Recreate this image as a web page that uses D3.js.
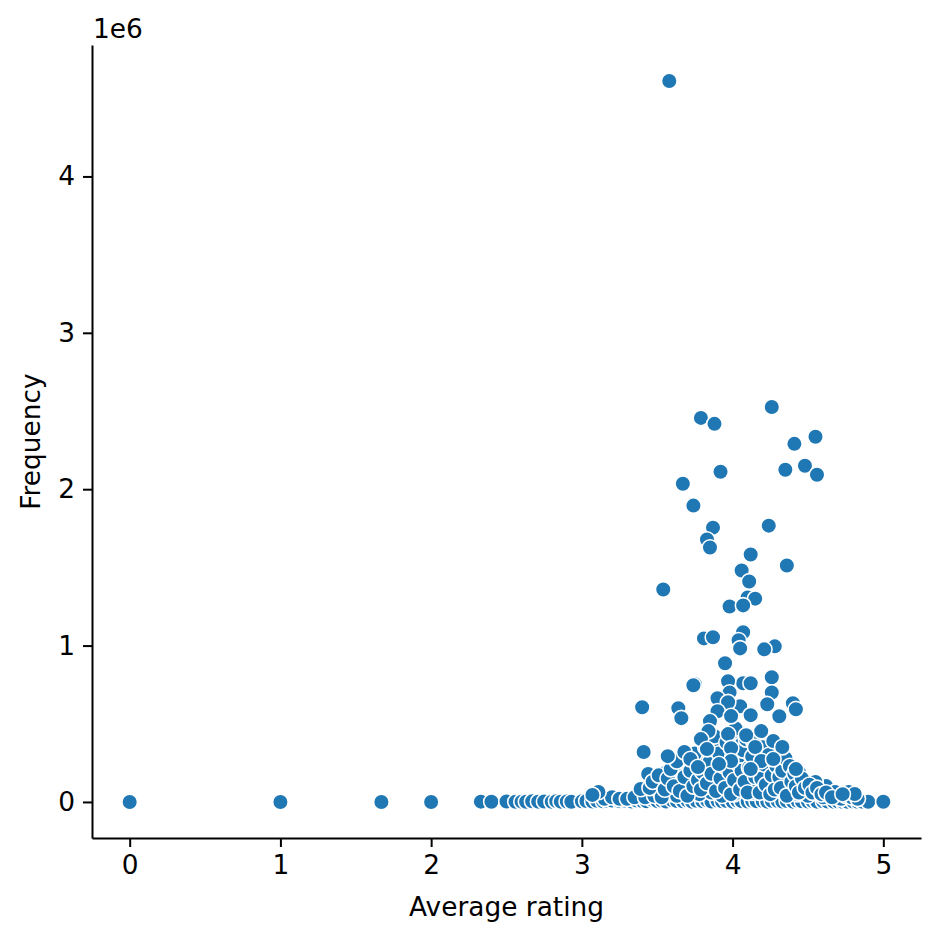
<!DOCTYPE html>
<html>
<head>
<meta charset="utf-8">
<script src="https://cdn.jsdelivr.net/npm/d3@7"></script>
<style>
  body { margin: 0; background: #fff; }
  text { font-family: "DejaVu Sans", sans-serif; }
</style>
</head>
<body>
<div id="chart-area"></div>
<script>
// Points as [average rating, frequency in millions]
// sparse low ratings
const lowRatings = [[0, 0], [1, 0], [1.67, 0], [2, 0]];

// everything sitting on the zero line
const baseline = [
  [2.33, 0.002], [2.40, 0.001], [2.50, 0.003], [2.56, 0.001], [2.60, 0.002], [2.63, 0.001],
  [2.67, 0.004], [2.71, 0.002], [2.75, 0.003], [2.80, 0.001], [2.83, 0.005], [2.86, 0.002],
  [2.90, 0.003], [2.93, 0.001], [3.00, 0.004], [3.03, 0.006], [3.07, 0.003], [3.10, 0.008],
  [3.14, 0.004], [3.17, 0.006], [3.20, 0.009], [3.25, 0.005], [3.29, 0.007], [3.33, 0.003],
  [3.36, 0.010], [3.40, 0.006], [3.43, 0.004], [3.47, 0.012], [3.50, 0.005], [3.53, 0.008],
  [3.56, 0.003], [3.60, 0.011], [3.63, 0.006], [3.67, 0.004], [3.70, 0.009], [3.73, 0.002],
  [3.76, 0.007], [3.80, 0.005], [3.83, 0.010], [3.86, 0.003], [3.90, 0.008], [3.93, 0.004],
  [3.96, 0.006], [4.00, 0.002], [4.03, 0.009], [4.06, 0.005], [4.10, 0.003], [4.13, 0.007],
  [4.16, 0.004], [4.20, 0.006], [4.23, 0.002], [4.26, 0.008], [4.30, 0.005], [4.33, 0.003],
  [4.36, 0.006], [4.40, 0.002], [4.43, 0.007], [4.46, 0.004], [4.50, 0.003], [4.53, 0.005],
  [4.56, 0.002], [4.60, 0.004], [4.63, 0.003], [4.67, 0.002], [4.70, 0.003], [4.73, 0.001],
  [4.76, 0.002], [4.80, 0.003], [4.83, 0.001], [4.86, 0.002], [4.90, 0.001], [5.00, 0.001]
];

// dense cluster just above zero
const cluster = [
  [3.15, 0.02], [3.20, 0.03], [3.25, 0.02], [3.30, 0.02], [3.35, 0.03], [3.42, 0.03],
  [3.48, 0.04], [3.52, 0.06], [3.54, 0.12], [3.58, 0.09], [3.60, 0.05], [3.63, 0.04],
  [3.67, 0.11], [3.62, 0.14], [3.66, 0.20], [3.69, 0.08], [3.70, 0.25], [3.73, 0.12],
  [3.76, 0.18], [3.78, 0.05], [3.80, 0.28], [3.81, 0.15], [3.84, 0.22], [3.86, 0.06],
  [3.87, 0.30], [3.88, 0.19], [3.90, 0.11], [3.92, 0.36], [3.93, 0.04], [3.94, 0.17],
  [3.95, 0.28], [3.96, 0.22], [3.98, 0.13], [4.00, 0.40], [4.01, 0.05], [4.02, 0.20],
  [4.03, 0.30], [4.05, 0.16], [4.06, 0.37], [4.08, 0.09], [4.09, 0.25], [4.10, 0.18],
  [4.11, 0.33], [4.13, 0.06], [4.14, 0.14], [4.16, 0.24], [4.17, 0.11], [4.18, 0.32],
  [4.20, 0.19], [4.21, 0.07], [4.22, 0.27], [4.23, 0.15], [4.25, 0.22], [4.27, 0.09],
  [4.28, 0.18], [4.30, 0.12], [4.32, 0.25], [4.34, 0.06], [4.36, 0.19], [4.37, 0.10],
  [4.38, 0.16], [4.40, 0.08], [4.41, 0.14], [4.43, 0.05], [4.44, 0.19], [4.45, 0.10],
  [4.47, 0.07], [4.49, 0.12], [4.50, 0.04], [4.52, 0.08], [4.58, 0.06], [4.60, 0.03],
  [4.65, 0.04], [4.70, 0.03], [4.72, 0.02], [4.75, 0.04], [4.79, 0.03], [4.83, 0.02],
  [3.46, 0.166], [3.56, 0.191], [3.71, 0.147], [3.89, 0.134], [4.04, 0.128], [4.24, 0.134],
  [4.35, 0.147], [4.46, 0.134], [3.50, 0.115], [3.64, 0.096], [3.82, 0.096], [3.97, 0.083],
  [4.15, 0.083], [4.29, 0.102], [4.54, 0.115], [4.62, 0.102], [3.39, 0.083], [3.44, 0.179],
  [3.11, 0.064], [3.07, 0.045], [4.55, 0.128], [4.68, 0.064], [4.77, 0.064], [4.81, 0.051],
  [3.45, 0.09], [3.47, 0.13], [3.51, 0.17], [3.53, 0.03], [3.55, 0.08], [3.57, 0.15],
  [3.59, 0.21], [3.61, 0.10], [3.63, 0.26], [3.65, 0.07], [3.68, 0.16], [3.70, 0.04],
  [3.72, 0.20], [3.74, 0.10], [3.75, 0.31], [3.77, 0.14], [3.79, 0.08], [3.80, 0.19],
  [3.82, 0.35], [3.83, 0.12], [3.85, 0.26], [3.86, 0.18], [3.88, 0.42], [3.89, 0.07],
  [3.91, 0.31], [3.92, 0.15], [3.94, 0.23], [3.95, 0.09], [3.96, 0.38], [3.98, 0.19],
  [3.99, 0.05], [4.00, 0.29], [4.01, 0.14], [4.02, 0.47], [4.04, 0.24], [4.05, 0.08],
  [4.06, 0.20], [4.07, 0.33], [4.08, 0.13], [4.09, 0.40], [4.10, 0.06], [4.11, 0.22],
  [4.13, 0.29], [4.14, 0.38], [4.15, 0.16], [4.17, 0.21], [4.18, 0.06], [4.19, 0.15],
  [4.20, 0.35], [4.21, 0.24], [4.22, 0.11], [4.24, 0.30], [4.25, 0.05], [4.26, 0.17],
  [4.27, 0.39], [4.28, 0.08], [4.29, 0.23], [4.31, 0.16], [4.32, 0.09], [4.33, 0.20],
  [4.35, 0.28], [4.36, 0.04], [4.38, 0.23], [4.39, 0.13], [4.41, 0.18], [4.42, 0.10],
  [4.44, 0.06], [4.46, 0.15], [4.48, 0.09], [4.51, 0.11], [4.53, 0.06], [4.56, 0.09],
  [4.59, 0.05], [4.62, 0.06], [4.66, 0.03], [4.73, 0.05]
];

// middle band, roughly 0.2 - 0.8 million
const middle = [
  [3.40, 0.606], [3.41, 0.319], [3.64, 0.600], [3.66, 0.536], [3.75, 0.753], [3.74, 0.746],
  [4.26, 0.797], [4.07, 0.759], [4.12, 0.759], [3.97, 0.772], [3.98, 0.700], [4.26, 0.700],
  [4.40, 0.631], [4.42, 0.593], [3.90, 0.663], [4.23, 0.625], [4.05, 0.612], [4.12, 0.555],
  [4.31, 0.548], [3.57, 0.293], [3.97, 0.638], [3.90, 0.580], [3.85, 0.517], [3.99, 0.549],
  [3.84, 0.453], [3.97, 0.434], [4.09, 0.427], [4.19, 0.453], [3.79, 0.402], [3.83, 0.338],
  [3.99, 0.344], [4.15, 0.351], [4.33, 0.351], [3.68, 0.319], [3.72, 0.274], [3.99, 0.262],
  [4.19, 0.262], [4.27, 0.274], [3.91, 0.242], [3.77, 0.223], [4.12, 0.210], [4.42, 0.210]
];

// the few very frequent ones
const outliers = [
  [3.58, 4.610], [3.79, 2.456], [3.88, 2.418], [4.26, 2.526], [4.55, 2.335], [4.41, 2.290],
  [4.48, 2.150], [4.35, 2.124], [4.56, 2.092], [3.92, 2.112], [3.67, 2.035], [3.74, 1.895],
  [3.87, 1.754], [3.83, 1.678], [3.85, 1.627], [4.24, 1.767], [4.12, 1.582], [4.36, 1.512],
  [4.06, 1.480], [4.11, 1.410], [3.54, 1.359], [4.10, 1.308], [4.15, 1.300], [3.98, 1.250],
  [4.07, 1.257], [4.07, 1.085], [3.81, 1.046], [3.87, 1.053], [4.04, 1.034], [4.05, 0.982],
  [4.28, 0.995], [4.21, 0.976], [3.95, 0.887]
];

const xTicks = [0, 1, 2, 3, 4, 5];
const yTicks = [0, 1, 2, 3, 4];

const width = 940;
const height = 940;
const margin = {top: 45, right: 19, bottom: 102, left: 92};

const points = lowRatings.concat(baseline, cluster, middle, outliers);

const svg = d3.select("#chart-area")
    .append("svg")
    .attr("width", width)
    .attr("height", height);

// matplotlib-style 5% padding around the data
const xExtent = d3.extent(points, d => d[0]);
const yExtent = d3.extent(points, d => d[1]);
const xPad = (xExtent[1] - xExtent[0]) * 0.05;
const yPad = (yExtent[1] - yExtent[0]) * 0.05;

const x = d3.scaleLinear()
    .domain([xExtent[0] - xPad, xExtent[1] + xPad])
    .range([margin.left, width - margin.right]);

const y = d3.scaleLinear()
    .domain([yExtent[0] - yPad, yExtent[1] + yPad])
    .range([height - margin.bottom, margin.top]);

// Draw the dots
svg.append("g")
    .selectAll("circle")
    .data(points)
    .enter()
    .append("circle")
    .attr("cx", d => x(d[0]))
    .attr("cy", d => y(d[1]))
    .attr("r", 7.8)
    .attr("fill", "#1f77b4")
    .attr("stroke", "#ffffff")
    .attr("stroke-width", 1.6);

// Axes
const xAxis = svg.append("g")
    .attr("transform", `translate(0,${height - margin.bottom})`)
    .call(d3.axisBottom(x).tickValues(xTicks).tickFormat(d3.format("d"))
        .tickSizeInner(9).tickSizeOuter(0).tickPadding(8));

const yAxis = svg.append("g")
    .attr("transform", `translate(${margin.left},0)`)
    .call(d3.axisLeft(y).tickValues(yTicks).tickFormat(d3.format("d"))
        .tickSizeInner(9).tickSizeOuter(0).tickPadding(8));

[xAxis, yAxis].forEach(g => {
    g.select(".domain").attr("stroke", "#000").attr("stroke-width", 2);
    g.selectAll(".tick line").attr("stroke", "#000").attr("stroke-width", 2);
    g.selectAll(".tick text")
        .attr("fill", "#000")
        .style("font-family", "DejaVu Sans, sans-serif")
        .style("font-size", "26.4px");
});

// offset label
svg.append("text")
    .attr("x", margin.left + 1)
    .attr("y", 38)
    .attr("fill", "#000")
    .style("font-size", "26.4px")
    .text("1e6");

// Axis labels
svg.append("text")
    .attr("x", (margin.left + width - margin.right) / 2)
    .attr("y", 916)
    .attr("text-anchor", "middle")
    .attr("fill", "#000")
    .style("font-size", "26.4px")
    .text("Average rating");

svg.append("text")
    .attr("transform", `translate(40,${(margin.top + height - margin.bottom) / 2}) rotate(-90)`)
    .attr("text-anchor", "middle")
    .attr("fill", "#000")
    .style("font-size", "26.4px")
    .text("Frequency");
</script>
</body>
</html>
